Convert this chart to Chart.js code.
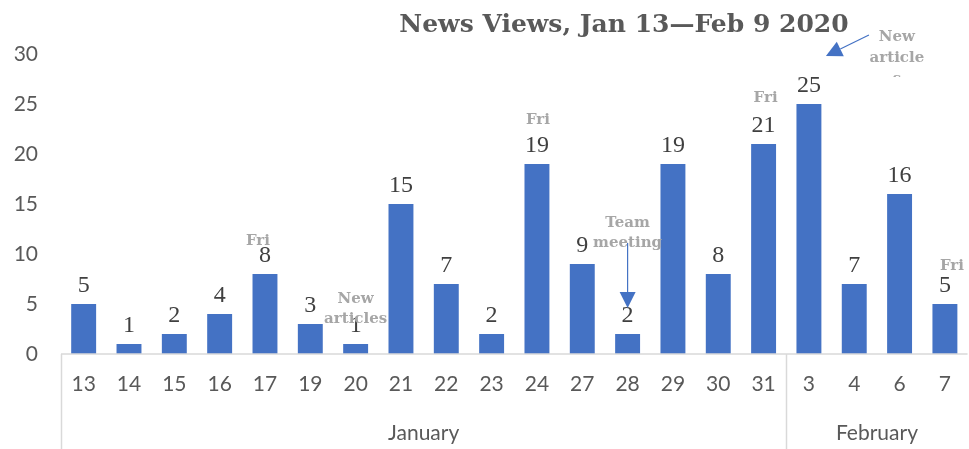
<!DOCTYPE html>
<html>
<head>
<meta charset="utf-8">
<script src="https://cdn.jsdelivr.net/npm/chart.js@4.4.1/dist/chart.umd.min.js"></script>
<style>
  html, body { margin: 0; padding: 0; background: #fff; }
</style>
</head>
<body>
<canvas id="newsChart" width="969" height="449"></canvas>
<script>
// daily views, Jan 13 - Feb 7
const days = ['13', '14', '15', '16', '17', '19', '20', '21', '22', '23', '24', '27', '28', '29', '30', '31', '3', '4', '6', '7'];
const views = [5, 1, 2, 4, 8, 3, 1, 15, 7, 2, 19, 9, 2, 19, 8, 21, 25, 7, 16, 5];
const months = ['January', 'February'];
const monthStart = [0, 16]; // first day index of each month
const yTicks = [0, 5, 10, 15, 20, 25, 30];
const title = 'News Views, Jan 13\u2014Feb 9 2020';

const axisGrey = '#d9d9d9';
const tickGrey = '#595959';
const noteGrey = '#a6a6a6';
const barBlue = '#4472c4';
const noteFont = 'bold 15px "DejaVu Serif"';

// callouts: category index, lines of text, offsets from the bar top
const notes = [
    { i: 4, lines: ['Fri'], dx: -7, dy: -29 },
    { i: 6, lines: ['New', 'articles'], dx: 0, dy: -41 },
    { i: 10, lines: ['Fri'], dx: 1, dy: -40 },
    { i: 12, lines: ['Team', 'meeting'], dx: 0, dy: -107 },
    { i: 15, lines: ['Fri'], dx: 2, dy: -42 },
    { i: 19, lines: ['Fri'], dx: 7, dy: -34 }
];

function arrow(ctx, x1, y1, x2, y2, head) {
    const a = Math.atan2(y2 - y1, x2 - x1);
    const bx = x2 - head * Math.cos(a), by = y2 - head * Math.sin(a);
    ctx.beginPath();
    ctx.moveTo(x1, y1);
    ctx.lineTo(bx, by);
    ctx.stroke();
    const w = head * 0.5;
    ctx.beginPath();
    ctx.moveTo(x2, y2);
    ctx.lineTo(bx + w * Math.sin(a), by - w * Math.cos(a));
    ctx.lineTo(bx - w * Math.sin(a), by + w * Math.cos(a));
    ctx.closePath();
    ctx.fill();
}

const decorPlugin = {
    id: 'decor',
    afterDatasetsDraw(chart) {
        const ctx = chart.ctx;
        const area = chart.chartArea;
        const xs = chart.scales.x;
        const ys = chart.scales.y;
        const step = (area.right - area.left) / days.length;
        const bottom = chart.height;

        ctx.save();
        // axis line and month dividers
        ctx.strokeStyle = axisGrey;
        ctx.lineWidth = 1.5;
        ctx.beginPath();
        ctx.moveTo(area.left, area.bottom);
        ctx.lineTo(area.right, area.bottom);
        monthStart.forEach(s => {
            const x = Math.round(area.left + s * step) + 0.5;
            ctx.moveTo(x, area.bottom);
            ctx.lineTo(x, bottom);
        });
        ctx.stroke();

        // month names centred under their days
        ctx.fillStyle = tickGrey;
        ctx.font = '21px Lato';
        ctx.textAlign = 'center';
        ctx.textBaseline = 'middle';
        months.forEach((m, k) => {
            const s = monthStart[k];
            const e = k + 1 < monthStart.length ? monthStart[k + 1] : days.length;
            ctx.fillText(m, area.left + (s + e) / 2 * step, area.bottom + 79);
        });

        // value labels
        ctx.fillStyle = '#404040';
        ctx.font = '24px "Liberation Serif"';
        ctx.textBaseline = 'alphabetic';
        views.forEach((v, i) => {
            ctx.fillText(String(v), xs.getPixelForValue(i), ys.getPixelForValue(v) - 12);
        });

        // callouts
        ctx.fillStyle = noteGrey;
        ctx.font = noteFont;
        notes.forEach(n => {
            const x = xs.getPixelForValue(n.i) + n.dx;
            const top = ys.getPixelForValue(views[n.i]);
            n.lines.forEach((t, k) => ctx.fillText(t, x, top + n.dy + k * 20));
        });

        // "New articles" note above the Feb 3 bar, cut off at its box edge
        const fx = xs.getPixelForValue(16);
        ctx.save();
        ctx.beginPath();
        ctx.rect(fx + 50, 20, 80, area.top + 23 - 20);
        ctx.clip();
        ['New', 'article', 's'].forEach((t, k) => ctx.fillText(t, fx + 88, area.top - 13 + k * 21));
        ctx.restore();

        // arrows
        ctx.strokeStyle = barBlue;
        ctx.fillStyle = barBlue;
        ctx.lineWidth = 1.2;
        const tx = xs.getPixelForValue(12);
        arrow(ctx, tx, area.bottom - 111, tx, area.bottom - 46, 16);
        arrow(ctx, fx + 60, area.top - 19, fx + 17, area.top + 2, 16);

        ctx.restore();
    },
    afterDraw(chart) {
        const ctx = chart.ctx;
        ctx.save();
        ctx.fillStyle = tickGrey;
        ctx.font = 'bold 25px "DejaVu Serif"';
        ctx.textAlign = 'center';
        ctx.textBaseline = 'alphabetic';
        ctx.fillText(title, 624, 32);
        ctx.restore();
    }
};

new Chart(document.getElementById('newsChart'), {
    type: 'bar',
    data: {
        labels: days,
        datasets: [{
            data: views,
            backgroundColor: barBlue,
            borderWidth: 0,
            categoryPercentage: 1,
            barPercentage: 0.55
        }]
    },
    options: {
        responsive: false,
        animation: false,
        layout: { padding: { top: 54, left: 0, right: 0, bottom: 0 } },
        plugins: {
            legend: { display: false },
            tooltip: { enabled: false }
        },
        scales: {
            x: {
                offset: true,
                grid: { display: false, drawTicks: false },
                border: { display: false },
                ticks: { color: tickGrey, font: { family: 'Lato', size: 21 }, padding: 18, maxRotation: 0, autoSkip: false },
                afterFit: s => { s.height = 95; }
            },
            y: {
                min: 0,
                max: 30,
                grid: { display: false, drawTicks: false },
                border: { display: false },
                afterBuildTicks: s => { s.ticks = yTicks.map(v => ({ value: v })); },
                ticks: { color: tickGrey, font: { family: 'Lato', size: 21 }, padding: 23 },
                afterFit: s => { s.width = 61; }
            }
        }
    },
    plugins: [decorPlugin]
});
</script>
</body>
</html>
